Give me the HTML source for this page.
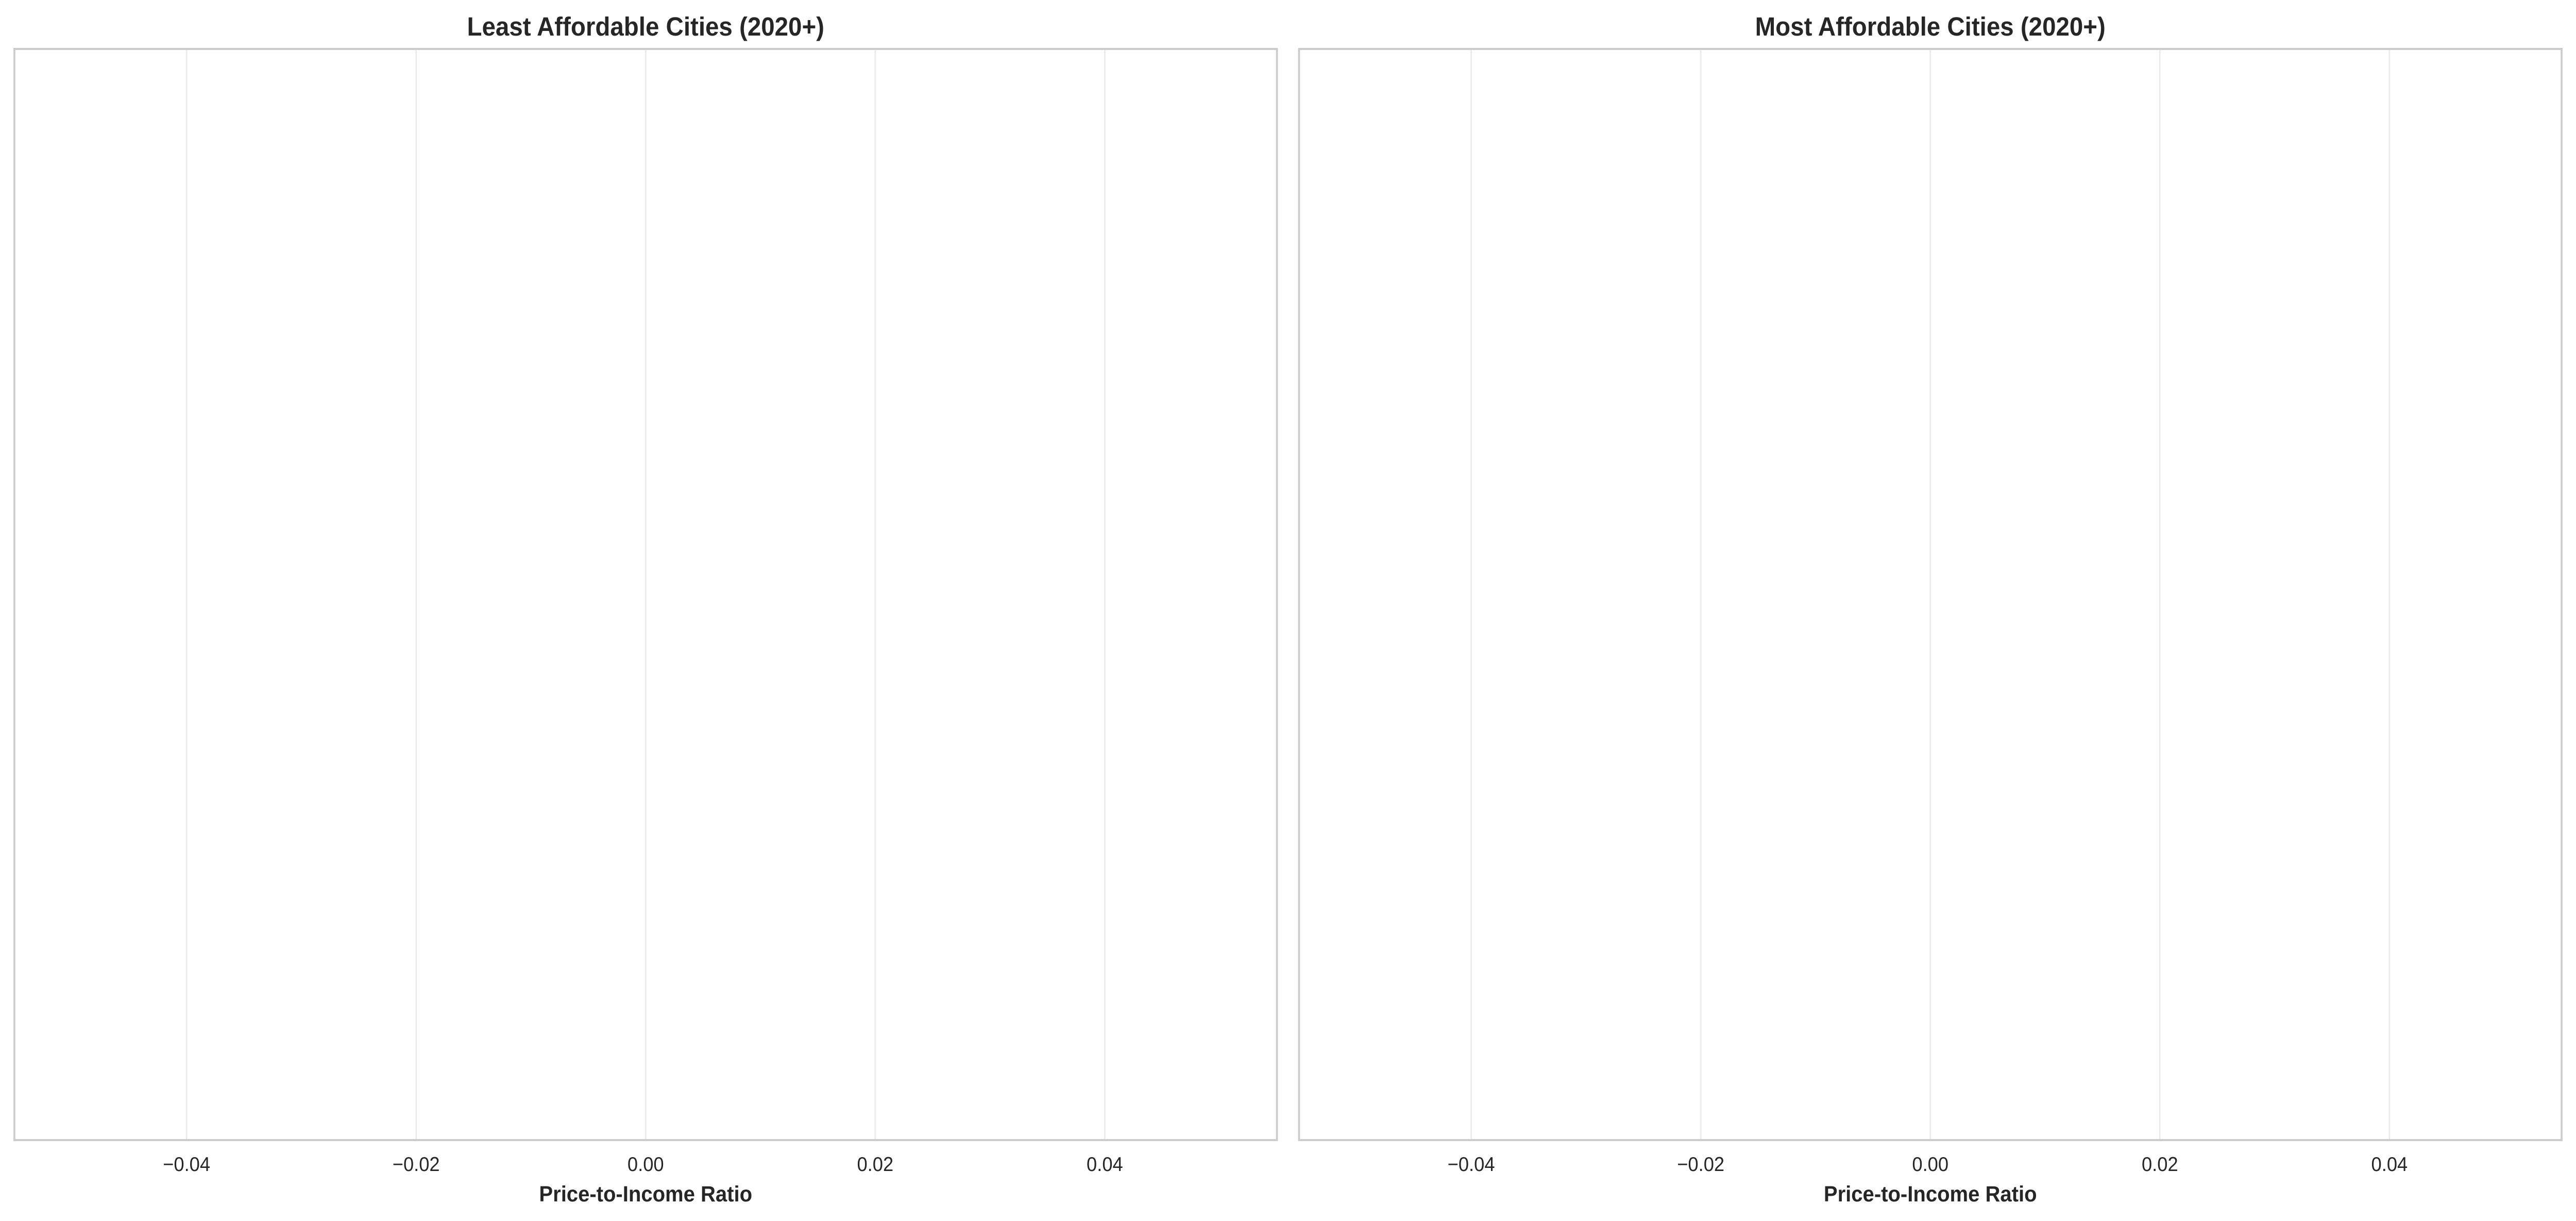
<!DOCTYPE html>
<html><head><meta charset="utf-8"><style>
html,body{margin:0;padding:0;background:#fff;overflow:hidden;width:100%;height:100%;}
svg{display:block;position:absolute;left:0;top:0;width:100vw;height:100vh;}
text{font-family:"Liberation Sans",Arial,sans-serif;fill:#262626;}
</style></head>
<body>
<svg id="chart" viewBox="0 0 5370 2369" preserveAspectRatio="none" xmlns="http://www.w3.org/2000/svg"></svg>
<script>
const leastCities = [];
const leastValues = [];
const mostCities = [];
const mostValues = [];
const xTicks = [-0.04, -0.02, 0.00, 0.02, 0.04];
const xTickLabels = ["\u22120.04", "\u22120.02", "0.00", "0.02", "0.04"];
const xDomain = [-0.055, 0.055];

const NS = "http://www.w3.org/2000/svg";
const svgEl = document.getElementById('chart');
function mk(tag, attrs, parent){
  const el = document.createElementNS(NS, tag);
  for (const k in attrs) el.setAttribute(k, attrs[k]);
  (parent||svgEl).appendChild(el);
  return el;
}
const yTop = 95, yBottom = 2212;
function panel(x0, x1, title, cats, vals, name){
  const g = mk('g', {});
  
  
  const sx = v => x0 + (v - xDomain[0]) / (xDomain[1] - xDomain[0]) * (x1 - x0);
  xTicks.forEach((t, i) => {
    const gl = mk('line', {x1: sx(t), x2: sx(t), y1: yTop, y2: yBottom, stroke: '#ebebeb', 'stroke-width': 3}, g);
    
    
    const tl = mk('text', {x: sx(t), y: 2272, 'font-size': 39, 'text-anchor': 'middle'}, g);
    
    
    tl.textContent = xTickLabels[i];
  });
  const n = cats.length;
  const bh = n ? (yBottom - yTop) / n : 0;
  cats.forEach((c, i) => {
    const v = vals[i];
    const b = mk('rect', {x: Math.min(sx(0), sx(v)), y: yTop + i * bh + bh * 0.1, width: Math.abs(sx(v) - sx(0)), height: bh * 0.8, fill: '#4c72b0'}, g);
    
    
  });
  const fr = mk('rect', {x: x0, y: yTop, width: x1 - x0, height: yBottom - yTop, fill: 'none', stroke: '#cccccc', 'stroke-width': 4}, g);
  
  
  const tt = mk('text', {x: (x0 + x1) / 2, y: 69, 'font-size': 51, 'font-weight': 'bold', 'text-anchor': 'middle'}, g);
  
  
  tt.textContent = title;
  const xl = mk('text', {x: (x0 + x1) / 2, y: 2331, 'font-size': 43, 'font-weight': 'bold', 'text-anchor': 'middle'}, g);
  
  
  xl.textContent = 'Price-to-Income Ratio';
}
panel(30, 2662, 'Least Affordable Cities (2020+)', leastCities, leastValues, 'least-affordable-panel');
panel(2708, 5340, 'Most Affordable Cities (2020+)', mostCities, mostValues, 'most-affordable-panel');
</script>
</body></html>
